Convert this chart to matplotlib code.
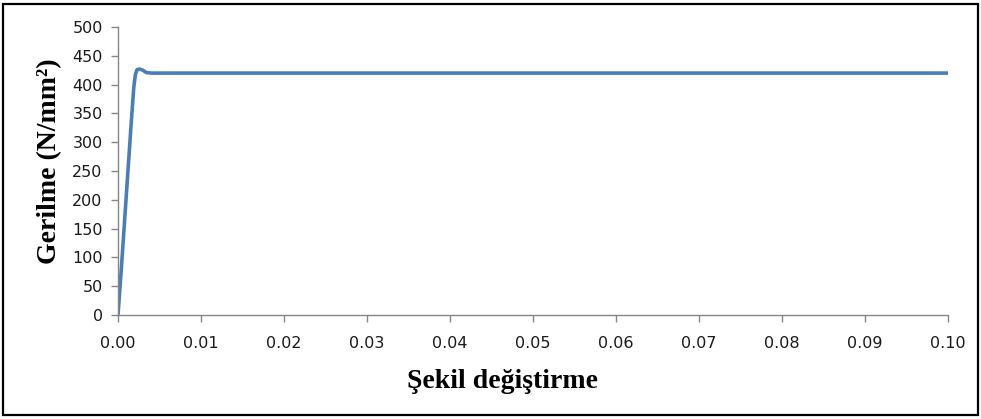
"""Stress-strain curve, redrawn from the reference picture."""

import matplotlib
matplotlib.use("Agg")
import matplotlib.pyplot as plt
from matplotlib.patches import Rectangle

strain = [0.0, 0.0004, 0.0008, 0.0012, 0.0016, 0.0019, 0.0021, 0.0023, 0.0026,
          0.0030, 0.0034, 0.0040, 0.0060, 0.1000]
stress = [0, 80, 165, 250, 335, 395, 418, 426, 427, 425, 421, 420, 420, 420]

x_ticks = [0.00, 0.01, 0.02, 0.03, 0.04, 0.05, 0.06, 0.07, 0.08, 0.09, 0.10]
y_ticks = [0, 50, 100, 150, 200, 250, 300, 350, 400, 450, 500]

grey = "#868686"
W, H = 981, 419

fig = plt.figure(figsize=(W / 100, H / 100), dpi=100)
ax = fig.add_axes([118 / W, 1 - 315 / H, 830 / W, 288 / H])

ax.plot(strain, stress, color="#4A7EBB", linewidth=2.6, solid_capstyle="round")

ax.set_xlim(0, 0.1)
ax.set_ylim(0, 500)
ax.set_xticks(x_ticks)
ax.set_xticklabels([f"{v:.2f}" for v in x_ticks])
ax.set_yticks(y_ticks)

for side in ("top", "right"):
    ax.spines[side].set_visible(False)
for side in ("left", "bottom"):
    ax.spines[side].set_color(grey)
    ax.spines[side].set_linewidth(1.0)

ax.tick_params(direction="out", length=5, width=1.0, color=grey,
               labelsize=11.5, labelcolor="#1a1a1a", pad=6)
ax.tick_params(axis="x", pad=10)
for lbl in ax.get_xticklabels() + ax.get_yticklabels():
    lbl.set_family("DejaVu Sans")

# label positions from the picture, in figure pixels
fig.text(502 / W, 1 - 388 / H, "Şekil değiştirme", family="Liberation Serif",
         fontweight="bold", fontsize=20, ha="center", va="baseline")
fig.text(50 / W, 1 - 161 / H, "Gerilme (N/mm²)", family="Liberation Serif",
         fontweight="bold", fontsize=20, ha="center", va="center", rotation=90)

fig.patches.append(Rectangle((3 / W, 4 / H), 975 / W, 411 / H,
                             transform=fig.transFigure, fill=False,
                             edgecolor="black", linewidth=1.6))

fig.savefig("out.png", dpi=100)
plt.close(fig)
